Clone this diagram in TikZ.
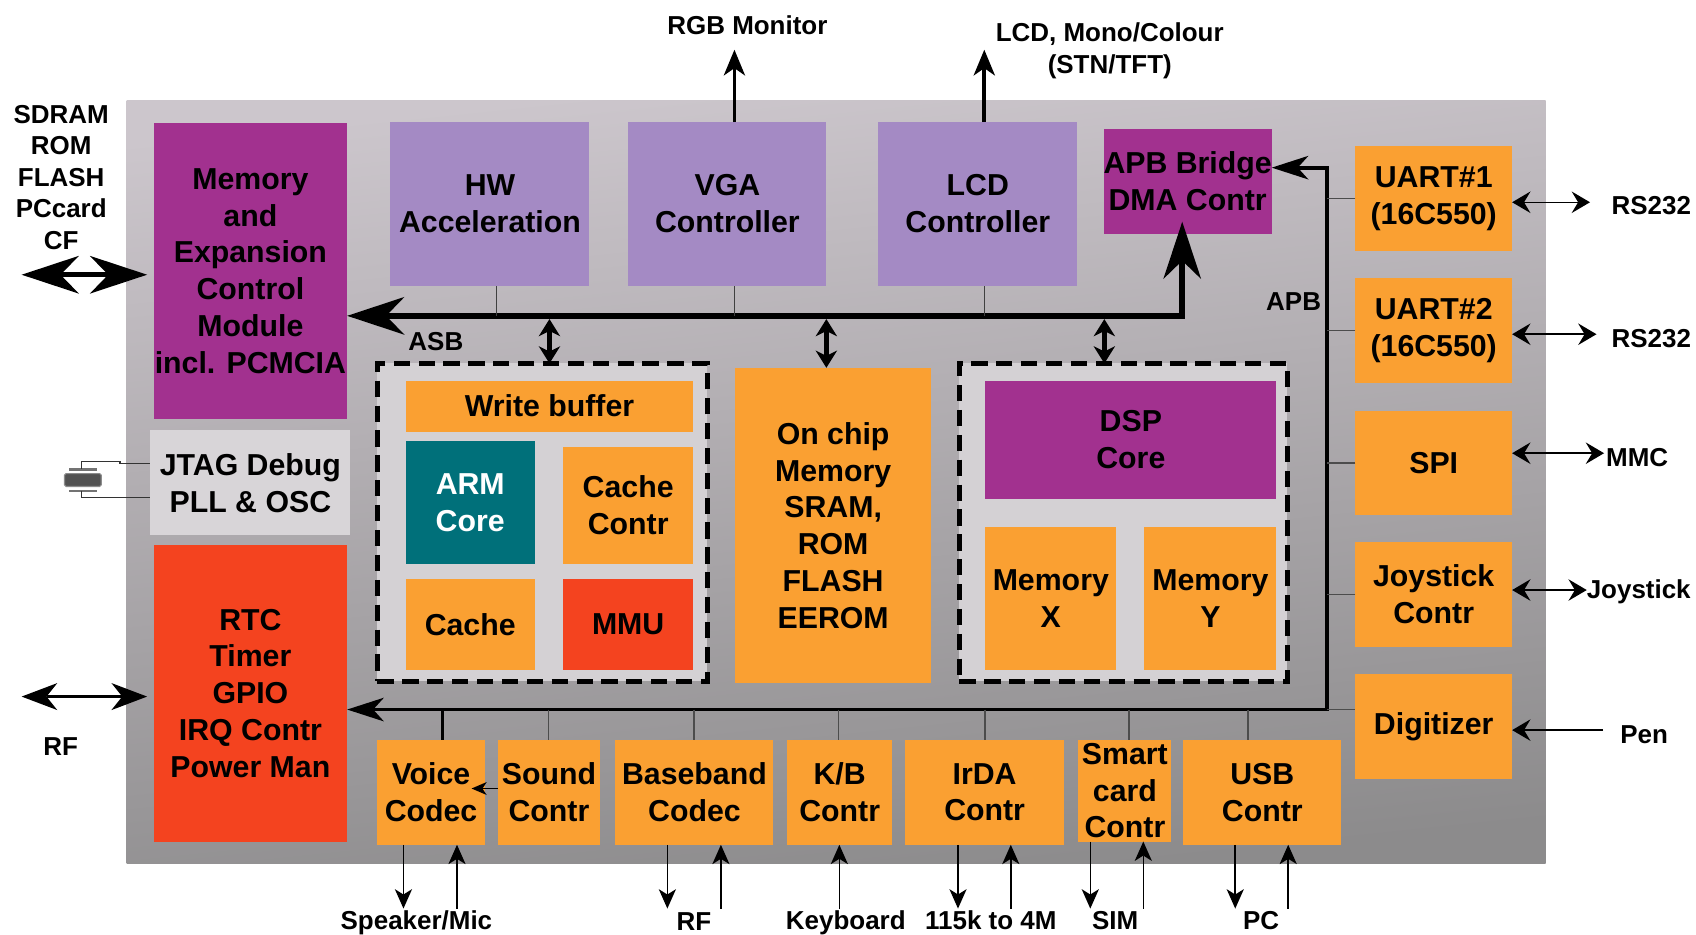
\documentclass[tikz,border=0pt]{standalone}
\usepackage{fontspec}
\setmainfont{Liberation Sans}
\usetikzlibrary{arrows.meta,calc}

\definecolor{socMag}{RGB}{162,49,143}
\definecolor{socLav}{RGB}{164,138,196}
\definecolor{socOrg}{RGB}{250,160,50}
\definecolor{socRed}{RGB}{244,67,31}
\definecolor{socTeal}{RGB}{0,112,122}
\definecolor{socLight}{RGB}{212,209,212}
\definecolor{socJtag}{RGB}{216,213,216}
\definecolor{bgTop}{RGB}{204,198,204}
\definecolor{bgMid}{RGB}{170,166,170}
\definecolor{bgBot}{RGB}{140,139,140}

\tikzset{
  bigtip/.tip={Stealth[length=53pt,width=35pt,inset=17pt,line width=0pt]},
  midtip/.tip={Stealth[length=34pt,width=22pt,inset=10pt,line width=0pt]},
  rftip/.tip={Stealth[length=33pt,width=25pt,inset=10pt,line width=0pt]},
  dbltip/.tip={Stealth[length=16pt,width=20pt,inset=5pt,line width=0pt]},
  uptip/.tip={Stealth[length=24pt,width=20pt,inset=7pt,line width=0pt]},
  smtip/.tip={Stealth[length=18pt,width=16pt,inset=5pt,line width=0pt]},
  rstip/.tip={Stealth[length=17pt,width=20pt,inset=6pt,line width=0pt]},
  tinytip/.tip={Stealth[length=14pt,width=12pt,inset=4pt,line width=0pt]},
}

\begin{document}
\begin{tikzpicture}[x=1pt,y=-1pt,
  blk/.style={inner sep=0pt,outer sep=0pt,align=center,
    font=\fontsize{28}{34}\selectfont\bfseries},
  lbl/.style={inner sep=0pt,outer sep=0pt,align=center,
    font=\fontsize{24}{29}\selectfont\bfseries},
  dashbox/.style={fill=socLight,draw=black,line width=4.5pt,
    dash pattern=on 15pt off 8pt,inner sep=0pt,outer sep=0pt},
  drop/.style={line width=1.2pt,draw=black!75},
  stub/.style={line width=1.4pt,draw=black!70},
  io/.style={line width=1.4pt,draw=black},
  lead/.style={line width=1.2pt,draw=black!80},
]
\useasboundingbox (0,0) rectangle (1568,864);

% chip background
\shade[top color=bgTop,middle color=bgMid,bottom color=bgBot,shading angle=6]
  (117,93) rectangle (1429,798);

% left column
\node[blk,fill=socMag,minimum width=179pt,minimum height=273pt] (mem) at (231.5,250.5)
  {Memory\\and\\Expansion\\Control\\Module\\incl. PCMCIA};
\node[blk,fill=socJtag,minimum width=185pt,minimum height=97pt] (jtag) at (231.5,446.5)
  {JTAG Debug\\PLL \& OSC};
\node[blk,fill=socRed,minimum width=179pt,minimum height=274pt] (rtc) at (231.5,641)
  {RTC\\Timer\\GPIO\\IRQ Contr\\Power Man};

% top row
\node[blk,fill=socLav,minimum width=184pt,minimum height=151pt] (hw) at (453,188.5)
  {HW\\Acceleration};
\node[blk,fill=socLav,minimum width=183pt,minimum height=151pt] (vga) at (672.5,188.5)
  {VGA\\Controller};
\node[blk,fill=socLav,minimum width=184pt,minimum height=151pt] (lcd) at (904,188.5)
  {LCD\\Controller};
\node[blk,fill=socMag,minimum width=152pt,minimum height=97pt] (apbbr) at (1098,167.5)
  {APB Bridge\\DMA Contr};

% APB peripherals on the right
\node[blk,fill=socOrg,minimum width=145pt,minimum height=97pt] (uart1) at (1325.5,183.5)
  {UART\#1\\(16C550)};
\node[blk,fill=socOrg,minimum width=145pt,minimum height=97pt] (uart2) at (1325.5,305.5)
  {UART\#2\\(16C550)};
\node[blk,fill=socOrg,minimum width=145pt,minimum height=96pt] (spi) at (1325.5,428)
  {SPI};
\node[blk,fill=socOrg,minimum width=145pt,minimum height=97pt] (joy) at (1325.5,549.5)
  {Joystick\\Contr};
\node[blk,fill=socOrg,minimum width=145pt,minimum height=97pt] (digit) at (1325.5,671.5)
  {Digitizer};

% ARM subsystem
\node[dashbox,minimum width=305pt,minimum height=294pt] (dashL) at (501.5,483) {};
\node[blk,fill=socOrg,minimum width=266pt,minimum height=47pt] (wbuf) at (508,375.5)
  {Write buffer};
\node[blk,fill=socTeal,text=white,minimum width=119.5pt,minimum height=114pt] (arm) at (434.75,464.5)
  {ARM\\Core};
\node[blk,fill=socOrg,minimum width=120.5pt,minimum height=108.5pt] (cctl) at (580.75,467.25)
  {Cache\\Contr};
\node[blk,fill=socOrg,minimum width=119.5pt,minimum height=84.5pt] (cache) at (434.75,577.25)
  {Cache};
\node[blk,fill=socRed,minimum width=120.5pt,minimum height=84.5pt] (mmu) at (580.75,577.25)
  {MMU};

% on-chip memory
\node[blk,fill=socOrg,minimum width=181.5pt,minimum height=291.5pt] (onchip) at (770.25,485.75)
  {On chip\\Memory\\SRAM,\\ROM\\FLASH\\EEROM};

% DSP subsystem
\node[dashbox,minimum width=303pt,minimum height=294pt] (dashR) at (1038.5,483) {};
\node[blk,fill=socMag,minimum width=269pt,minimum height=109pt] (dsp) at (1045.5,406.5)
  {DSP\\Core};
\node[blk,fill=socOrg,minimum width=121pt,minimum height=132.5pt] (memx) at (971.5,553.25)
  {Memory\\X};
\node[blk,fill=socOrg,minimum width=122pt,minimum height=132.5pt] (memy) at (1119,553.25)
  {Memory\\Y};

% bottom row
\node[blk,fill=socOrg,minimum width=99pt,minimum height=97pt] (voice) at (398.5,732.5)
  {Voice\\Codec};
\node[blk,fill=socOrg,minimum width=95pt,minimum height=97pt] (sound) at (507.5,732.5)
  {Sound\\Contr};
\node[blk,fill=socOrg,minimum width=146pt,minimum height=97pt] (base) at (642,732.5)
  {Baseband\\Codec};
\node[blk,fill=socOrg,minimum width=96.7pt,minimum height=97pt] (kb) at (776.3,732.5)
  {K/B\\Contr};
\node[blk,fill=socOrg,minimum width=147.3pt,minimum height=97pt] (irda) at (910.3,732.5)
  {IrDA\\Contr};
\node[blk,fill=socOrg,minimum width=86pt,minimum height=94pt] (smart) at (1040,731)
  {Smart\\card\\Contr};
\node[blk,fill=socOrg,minimum width=146pt,minimum height=97pt] (usb) at (1167,732.5)
  {USB\\Contr};

% outside labels
\node[lbl] (sdram) at (56.6,164) {SDRAM\\ROM\\FLASH\\PCcard\\CF};
\node[lbl] (rfl) at (56,690) {RF};
\node[lbl] (rgb) at (691,23) {RGB Monitor};
\node[lbl,font=\fontsize{24}{30}\selectfont\bfseries] (lcdl) at (1026,47)
  {LCD, Mono/Colour\\(STN/TFT)};
\node[lbl,anchor=west] (rs1) at (1490,190) {RS232};
\node[lbl,anchor=west] (rs2) at (1490,313) {RS232};
\node[lbl,anchor=west] (mmc) at (1485,423) {MMC};
\node[lbl,anchor=west] (joyl) at (1467,547) {Joystick};
\node[lbl,anchor=west] (pen) at (1498,679) {Pen};
\node[lbl] (asb) at (403,316) {ASB};
\node[lbl] (apb) at (1196,279) {APB};
\node[lbl] (spk) at (385,853) {Speaker/Mic};
\node[lbl] (rfb) at (641.5,852) {RF};
\node[lbl] (kbd) at (782,853) {Keyboard};
\node[lbl] (irl) at (916,851) {115k to 4M};
\node[lbl] (sim) at (1031,851) {SIM};
\node[lbl] (pcl) at (1166,851) {PC};

% ASB bus
\coordinate (asbR) at (1093,292);
\draw[line width=6pt,bigtip-bigtip] (mem.east |- asbR) -- (asbR)
  -- ($(asbR |- apbbr.south)+(0,-11)$);
% masters and slaves hanging on the ASB
\coordinate (hwT) at (459,292);
\coordinate (vgaT) at (679,292);
\coordinate (lcdT) at (910,292);
\draw[drop] (hwT) -- (hwT |- hw.south);
\draw[drop] (vgaT) -- (vgaT |- vga.south);
\draw[drop] (lcdT) -- (lcdT |- lcd.south);
\coordinate (a1) at (508,295);
\coordinate (a2) at (764,295);
\coordinate (a3) at (1021,295);
\draw[line width=4.5pt,dbltip-dbltip] (a1) -- (a1 |- dashL.north);
\draw[line width=4.5pt,dbltip-dbltip] (a2) -- (a2 |- onchip.north);
\draw[line width=4.5pt,dbltip-dbltip] (a3) -- (a3 |- dashR.north);

% display outputs
\coordinate (vgaO) at (679,46);
\coordinate (lcdO) at (910,46);
\draw[line width=3.5pt,-uptip] (vgaO |- vga.north) -- (vgaO);
\draw[line width=3.5pt,-uptip] (lcdO |- lcd.north) -- (lcdO);

% APB bus
\coordinate (apbT) at (1227,155);
\coordinate (apbC) at (1227,656);
\draw[line width=3.5pt,midtip-midtip] (apbbr.east |- apbT) -- (apbT) -- (apbC)
  -- (rtc.east |- apbC);
\draw[stub] (uart1.west) -- (uart1.west -| apbT);
\draw[stub] (uart2.west) -- (uart2.west -| apbT);
\draw[stub] (spi.west) -- (spi.west -| apbT);
\draw[stub] (joy.west) -- (joy.west -| apbT);
\draw[stub] (apbC) -- (apbC -| digit.west);
\coordinate (t1) at (409,656);
\coordinate (t2) at (507,656);
\coordinate (t3) at (641.5,656);
\coordinate (t4) at (775,656);
\coordinate (t5) at (910.5,656);
\coordinate (t6) at (1044,656);
\coordinate (t7) at (1154,656);
\draw[line width=2.6pt] (t1) -- (t1 |- voice.north);
\draw[stub] (t2) -- (t2 |- sound.north);
\draw[stub] (t3) -- (t3 |- base.north);
\draw[stub] (t4) -- (t4 |- kb.north);
\draw[stub] (t5) -- (t5 |- irda.north);
\draw[stub] (t6) -- (t6 |- smart.north);
\draw[stub] (t7) -- (t7 |- usb.north);

% sound to voice codec
\coordinate (sv) at (460,729);
\draw[io,-tinytip] (sound.west |- sv) -- ($(voice.east |- sv)+(-12,0)$);

% external memory and RF
\coordinate (sdL) at (20,254);
\draw[line width=5pt,bigtip-bigtip,shorten >=6pt] (sdL) -- (sdL -| mem.west);
\coordinate (rfL) at (20,644);
\draw[line width=3.5pt,rftip-rftip,shorten >=6pt] (rfL) -- (rfL -| rtc.west);

% crystal on the oscillator
\node[draw=black!45,line width=1pt,fill=black!68,minimum width=34pt,minimum height=12pt,
  inner sep=0pt,rounded corners=1.5pt] (xtal) at (76.6,443.8) {};
\draw[line width=2pt,black!55] (64,434) -- (89.4,434);
\draw[line width=2pt,black!55] (64,453.7) -- (89.4,453.7);
\coordinate (xa) at (111,428.4);
\coordinate (xb) at (75.5,459.8);
\draw[lead] (75.5,434) -- (75.5,426.8) -- (111,426.8) -- (xa) -- (xa -| jtag.west);
\draw[lead] (75.5,453.7) -- (xb) -- (xb -| jtag.west);

% serial and user interfaces
\coordinate (r1) at (1470,187);
\coordinate (r2) at (1476,309);
\coordinate (r3) at (1483,419);
\coordinate (r4) at (1467,545.5);
\coordinate (r5) at (1482,675);
\draw[io,rstip-rstip] (uart1.east |- r1) -- (r1);
\draw[io,rstip-rstip] (uart2.east |- r2) -- (r2);
\draw[io,rstip-rstip] (spi.east |- r3) -- (r3);
\draw[io,rstip-rstip] (joy.east |- r4) -- (r4);
\draw[io,-rstip] (r5) -- (digit.east |- r5);

% audio, baseband and connectivity pins
\coordinate (b1) at (373,840);
\coordinate (b2) at (422.5,840);
\coordinate (b3) at (617,840);
\coordinate (b4) at (666.5,840);
\coordinate (b5) at (776,840);
\coordinate (b6) at (885.7,840);
\coordinate (b7) at (934.5,840);
\coordinate (b8) at (1008,840);
\coordinate (b9) at (1057,840);
\coordinate (b10) at (1142,840);
\coordinate (b11) at (1191,840);
\draw[io,-smtip] (b1 |- voice.south) -- (b1);
\draw[io,-smtip] (b2) -- (b2 |- voice.south);
\draw[io,-smtip] (b3 |- base.south) -- (b3);
\draw[io,-smtip] (b4) -- (b4 |- base.south);
\draw[io,-smtip] (b5) -- (b5 |- kb.south);
\draw[io,-smtip] (b6 |- irda.south) -- (b6);
\draw[io,-smtip] (b7) -- (b7 |- irda.south);
\draw[io,-smtip] (b8 |- smart.south) -- (b8);
\draw[io,-smtip] (b9) -- (b9 |- smart.south);
\draw[io,-smtip] (b10 |- usb.south) -- (b10);
\draw[io,-smtip] (b11) -- (b11 |- usb.south);
\end{tikzpicture}
\end{document}
